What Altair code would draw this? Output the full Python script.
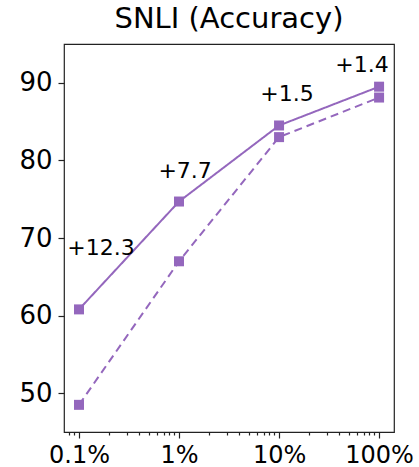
import altair as alt
import pandas as pd

# ---- data ----
fractions = [0.1, 1, 10, 100]                # training data fraction (%)
with_method = [60.8, 74.7, 84.5, 89.5]       # solid line
baseline = [48.5, 67.0, 83.0, 88.1]          # dashed line
gain_labels = ["+12.3", "+7.7", "+1.5", "+1.4"]
label_x = [0.166, 1.15, 12.0, 67.6]
label_y = [68.7, 78.6, 88.5, 92.3]

x_ticks = [0.1, 1, 10, 100]
x_minor = [0.08, 0.09,
           0.2, 0.3, 0.4, 0.5, 0.6, 0.7, 0.8, 0.9,
           2, 3, 4, 5, 6, 7, 8, 9,
           20, 30, 40, 50, 60, 70, 80, 90]
y_ticks = [50, 60, 70, 80, 90]
x_domain = [0.0708, 141]
y_domain = [45, 95]

COLOR = "#9467bd"
FONT = "DejaVu Sans"

rows = []
for f, v in zip(fractions, with_method):
    rows.append({"frac": f, "acc": v, "series": "with"})
for f, v in zip(fractions, baseline):
    rows.append({"frac": f, "acc": v, "series": "baseline"})
df = pd.DataFrame(rows)

ann = pd.DataFrame({"x": label_x, "y": label_y, "text": gain_labels})

xscale = alt.Scale(type="log", domain=x_domain, nice=False)
yscale = alt.Scale(domain=y_domain, nice=False, zero=False)

major_axis = alt.Axis(values=x_ticks, labelExpr="datum.value + '%'", orient="bottom",
                      tickSize=6, labelPadding=5, labelFontSize=24, domain=False,
                      title=None, grid=False, labelFlush=False, labelOverlap=False)
minor_axis = alt.Axis(values=x_minor, labels=False, orient="bottom", tickSize=3,
                      domain=False, title=None, grid=False)
y_axis = alt.Axis(values=y_ticks, tickSize=6, labelPadding=6, labelFontSize=26,
                  domain=False, title=None, grid=False)

dash_scale = alt.Scale(domain=["with", "baseline"], range=[[1, 0], [8, 5]])

lines = alt.Chart(df).mark_line(color=COLOR, strokeWidth=2).encode(
    x=alt.X("frac:Q", scale=xscale, axis=major_axis),
    y=alt.Y("acc:Q", scale=yscale, axis=y_axis),
    strokeDash=alt.StrokeDash("series:N", scale=dash_scale, legend=None),
    detail="series:N",
)

points = alt.Chart(df).mark_point(shape="square", size=100, filled=True,
                                  color=COLOR, opacity=1).encode(
    x=alt.X("frac:Q", scale=xscale, axis=minor_axis),
    y=alt.Y("acc:Q", scale=yscale, axis=y_axis),
)

labels = alt.Chart(ann).mark_text(fontSize=22, font=FONT, color="black",
                                  align="center", baseline="middle").encode(
    x=alt.X("x:Q", scale=xscale, axis=None),
    y=alt.Y("y:Q", scale=yscale, axis=y_axis),
    text="text:N",
)

chart = alt.layer(lines, points, labels).resolve_axis(x="independent").properties(
    width=330,
    height=388,
    background="white",
    autosize=alt.AutoSizeParams(type="none"),
    padding={"left": 64, "top": 44, "right": 25, "bottom": 35},
    title=alt.TitleParams("SNLI (Accuracy)", fontSize=29, font=FONT, fontWeight="normal",
                          color="black", offset=10, anchor="middle"),
).configure_view(
    stroke="#222", strokeWidth=1.2
).configure_axis(
    labelFont=FONT, labelColor="black", tickColor="#222", tickWidth=1.2
)

chart.save("out.html", embed_options={"renderer": "svg", "actions": False})
